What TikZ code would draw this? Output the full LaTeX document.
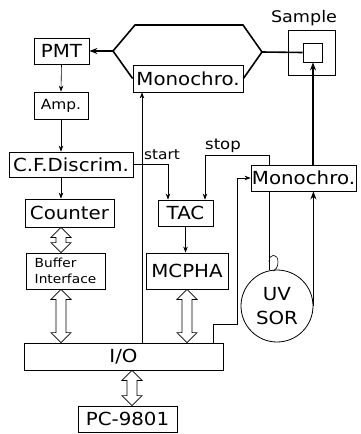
\documentclass[tikz,border=0pt]{standalone}
\usepackage{fontspec}
\setmainfont[FakeStretch=1.1]{DejaVu Sans}
\usetikzlibrary{arrows.meta, calc}
\tikzset{
	unit/.style  ={rectangle, draw=black, line width=0.8pt, inner sep=0pt, align=center},
	wire/.style  ={line width=0.6pt},
	sig/.style   ={-{Stealth[length=6pt, width=4.5pt]}, line width=0.6pt},
	beam/.style  ={line width=1.6pt},
	beamar/.style={-{Stealth[length=8pt, width=6pt]}, line width=1.6pt},
	% hollow two-way bus arrow, drawn from upper to lower end
	bus/.style   ={line width=0.7pt, line join=miter, to path={
		let \p1=(\tikztostart), \p2=(\tikztotarget) in
		(\x1,\y1) -- (\x1+10pt,\y1-10pt) -- (\x1+5pt,\y1-10pt) -- (\x1+5pt,\y2+10pt)
		-- (\x1+10pt,\y2+10pt) -- (\x1,\y2) -- (\x1-10pt,\y2+10pt) -- (\x1-5pt,\y2+10pt)
		-- (\x1-5pt,\y1-10pt) -- (\x1-10pt,\y1-10pt) -- cycle}},
	lbl/.style   ={inner sep=0pt},
}
\begin{document}
\begin{tikzpicture}[x=1pt, y=-1pt, font=\fontsize{18}{21}\selectfont]
	\useasboundingbox (0,0) rectangle (361,434);
	% left column
	\node[unit, minimum width=55pt, minimum height=26pt] (pmt) at (61.5,51) {PMT};
	\node[unit, minimum width=54pt, minimum height=27pt, font=\fontsize{14}{16}\selectfont] (amp) at (61,105.5) {Amp.};
	\node[unit, minimum width=124pt, minimum height=25pt] (cf) at (71,164.5) {C.F.Discrim.};
	\node[unit, minimum width=89pt, minimum height=28pt] (cnt) at (69.5,213) {Counter};
	\node[unit, minimum width=79pt, minimum height=36pt, align=left, font=\fontsize{12.5}{16}\selectfont] (buf) at (65.5,271) {Buffer\\Interface};
	% middle
	\node[unit, minimum width=110pt, minimum height=27pt] (monoL) at (188,78.5) {Monochro.};
	\node[unit, minimum width=55pt, minimum height=26pt] (tac) at (185.5,213) {TAC};
	\node[unit, minimum width=82pt, minimum height=36pt] (mcpha) at (187,271) {MCPHA};
	\node[unit, minimum width=199pt, minimum height=27pt] (io) at (123.5,356.5) {I/O};
	\node[unit, minimum width=99pt, minimum height=26pt] (pc) at (127.5,419) {PC-9801};
	% right
	\node[unit, minimum width=105pt, minimum height=26pt] (monoR) at (303.5,178) {Monochro.};
	\node[unit, minimum width=47pt, minimum height=45pt] (sampout) at (311.5,52.5) {};
	\node[unit, minimum size=19pt] (sampin) at (312.5,52.5) {};
	\node[lbl, font=\fontsize{16}{19}\selectfont] (samplbl) at (304,18) {Sample};
	\node[circle, draw=black, line width=0.8pt, minimum size=72pt, inner sep=0pt, align=center,
		font=\fontsize{18}{24}\selectfont] (uv) at (277,306) {UV\\SOR};
	\node[lbl, font=\fontsize{14}{16}\selectfont] (startlbl) at (162,155) {start};
	\node[lbl, font=\fontsize{15}{17}\selectfont] (stoplbl) at (223,146) {stop};
	\coordinate (fl) at (113,51);
	\coordinate (fr) at (262,52);
	\coordinate (lp) at (269,262);
	\coordinate (pcin) at ([xshift=4.5pt]pc.north);

	% optics
	\draw[beam] (fr) -- (243,25) -- (135,25) -- (fl) -- (monoL.west);
	\draw[beam] (monoL.east) -- (fr) -- (sampin.west);
	\draw[beamar] (fl) -- (pmt.east);
	\draw[beamar] (uv.east) -- (uv.east |- monoR.south);
	\draw[beamar] ([xshift=9.5pt]monoR.north) -- ([xshift=9.5pt]monoR.north |- sampin.south);
	\draw[wire] ([xshift=-34.5pt]monoR.south) -- ([xshift=-8pt]uv.north);
	\draw[wire] (lp) .. controls (269,253) and (278,253) .. (278,262) .. controls (278,268) and (275,270) .. (273,271);

	% signals
	\draw[sig] (pmt.south) -- (amp.north);
	\draw[sig] (amp.south) -- (cf.north -| amp.south);
	\draw[sig] (cf.south -| amp.south) -- (cnt.north -| amp.south);
	\draw[sig] (cf.east) -| ([xshift=-17.5pt]tac.north);
	\draw[sig] ([xshift=-34.5pt]monoR.north) -- ++(0,-9) -| ([xshift=19.5pt]tac.north);
	\draw[sig] (tac.south) -- (mcpha.north -| tac.south);
	\draw[sig] ([xshift=18.5pt]io.north) -- ([xshift=18.5pt]io.north |- monoL.south);
	\draw[sig] ([xshift=89.5pt]io.north) -- ++(0,-18) -- ++(24,0) |- (monoR.west);

	% data buses
	\draw[bus] (cnt.south -| amp.south) to (buf.north -| amp.south);
	\draw[bus] (buf.south -| amp.south) to (io.north -| amp.south);
	\draw[bus] (mcpha.south) to (io.north -| mcpha.south);
	\draw[bus] (io.south -| pcin) to (pcin);
\end{tikzpicture}
\end{document}
